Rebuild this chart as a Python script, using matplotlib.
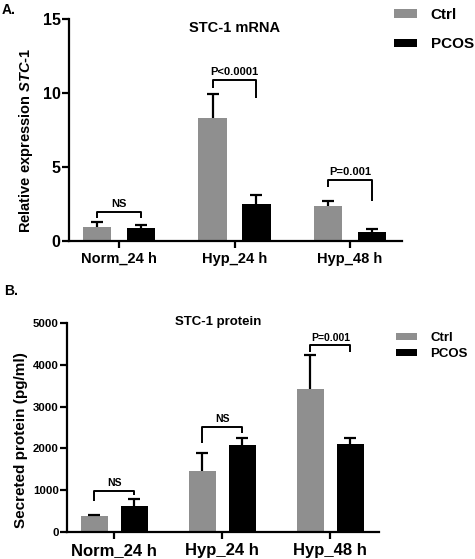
import matplotlib
matplotlib.use('Agg')
import matplotlib.pyplot as plt
import numpy as np

# =============================================================================
# STC-1 mRNA / protein — Ctrl vs PCOS, two stacked bar panels
# =============================================================================

plt.rcParams['font.family'] = ['Liberation Sans', 'DejaVu Sans']
plt.rcParams['font.weight'] = 'bold'
plt.rcParams['mathtext.fontset'] = 'custom'
plt.rcParams['mathtext.it'] = 'Liberation Sans:italic:bold'
plt.rcParams['mathtext.rm'] = 'Liberation Sans:bold'

groups = ['Norm_24 h', 'Hyp_24 h', 'Hyp_48 h']
series = ['Ctrl', 'PCOS']

# panel A: relative expression
mrna_ctrl     = [0.95, 8.3, 2.35]
mrna_ctrl_err = [0.35, 1.6, 0.35]
mrna_pcos     = [0.9, 2.5, 0.6]
mrna_pcos_err = [0.2, 0.6, 0.2]
# brackets: (group, top, left leg end, right leg end, label)
mrna_sig = [(0, 1.95, 1.55, 1.55, 'NS'),
            (1, 10.9, 10.35, 9.65, 'P<0.0001'),
            (2, 4.1, 3.65, 2.7, 'P=0.001')]

# panel B: secreted protein (pg/ml)
prot_ctrl     = [380, 1460, 3420]
prot_ctrl_err = [30, 430, 810]
prot_pcos     = [620, 2080, 2100]
prot_pcos_err = [180, 170, 150]
prot_sig = [(0, 990, 750, 885, 'NS'),
            (1, 2520, 2130, 2370, 'NS'),
            (2, 4470, 4310, 4310, 'P=0.001')]

CTRL_COLOR = '#8f8f8f'
PCOS_COLOR = '#000000'

W, H = 475, 559
fig = plt.figure(figsize=(W / 100, H / 100), dpi=100)


def style_axes(ax, ytick_size, xtick_size):
    for s in ['top', 'right']:
        ax.spines[s].set_visible(False)
    for s in ['left', 'bottom']:
        ax.spines[s].set_linewidth(1.6)
    ax.tick_params(axis='both', width=1.6, length=5, direction='out')
    ax.tick_params(axis='y', labelsize=ytick_size, pad=1)
    ax.tick_params(axis='x', labelsize=xtick_size, pad=3)
    for lab in ax.get_xticklabels() + ax.get_yticklabels():
        lab.set_fontweight('bold')


def draw_panel(ax, ctrl, ctrl_err, pcos, pcos_err, sig, off, width,
               cap, txt_size, txt_gap):
    x = np.arange(len(groups))
    ekw = dict(elinewidth=1.6, capthick=1.6, ecolor='black')
    b1 = ax.bar(x - off, ctrl, width, color=CTRL_COLOR, label=series[0],
                yerr=[np.zeros(len(ctrl)), ctrl_err], capsize=cap,
                error_kw=ekw, zorder=2)
    b2 = ax.bar(x + off, pcos, width, color=PCOS_COLOR, label=series[1],
                yerr=[np.zeros(len(pcos)), pcos_err], capsize=cap,
                error_kw=ekw, zorder=2)
    # only the upper cap is shown (one-sided error bars)
    for b in (b1, b2):
        caps = b.errorbar.lines[1]
        if len(caps) > 1:
            caps[0].set_visible(False)
    for g, top, lleg, rleg, lab in sig:
        xl, xr = g - off, g + off
        ax.plot([xl, xl, xr, xr], [lleg, top, top, rleg],
                color='black', lw=1.4, solid_capstyle='butt', zorder=3)
        ax.text(g, top + txt_gap, lab, ha='center', va='bottom',
                fontsize=txt_size, fontweight='bold')
    ax.set_xticks(x)
    ax.set_xticklabels(groups)
    return b1, b2


# ---- Panel A ----
axA = fig.add_axes([69 / W, 1 - 241 / H, (402 - 69) / W, (241 - 19) / H])
hA = draw_panel(axA, mrna_ctrl, mrna_ctrl_err, mrna_pcos, mrna_pcos_err,
                mrna_sig, off=0.19, width=0.245, cap=4.5, txt_size=8,
                txt_gap=0.2)
axA.set_xlim(-0.433, 2.45)
axA.set_ylim(0, 15)
axA.set_yticks([0, 5, 10, 15])
axA.set_ylabel('Relative expression $\\mathit{STC}$-$\\mathit{1}$',
               fontsize=10.5, fontweight='bold')
axA.yaxis.set_label_coords(-0.102, 0.455)
style_axes(axA, 11.5, 10.5)
fig.text(235 / W, 1 - 28 / H, 'STC-1 mRNA', ha='center', va='center',
         fontsize=10.5, fontweight='bold')
fig.legend(hA, series, loc='upper left',
           bbox_to_anchor=(394 / W, 1 - 8 / H), frameon=False,
           handlelength=1.5, handleheight=0.45,
           handletextpad=0.9, labelspacing=1.0, borderpad=0,
           borderaxespad=0, prop={'weight': 'bold', 'size': 11})
fig.text(2 / W, 1 - 10 / H, 'A.', ha='left', va='center',
         fontsize=10, fontweight='bold')

# ---- Panel B ----
axB = fig.add_axes([67 / W, 1 - 532 / H, (379 - 67) / W, (532 - 323) / H])
hB = draw_panel(axB, prot_ctrl, prot_ctrl_err, prot_pcos, prot_pcos_err,
                prot_sig, off=0.185, width=0.25, cap=4.5, txt_size=7.5,
                txt_gap=60)
axB.set_xlim(-0.435, 2.45)
axB.set_ylim(0, 5000)
axB.set_yticks(np.arange(0, 5001, 1000))
axB.set_ylabel('Secreted protein (pg/ml)', fontsize=11, fontweight='bold')
axB.yaxis.set_label_coords(-0.125, 0.44)
style_axes(axB, 8.2, 12)
fig.text(218 / W, 1 - 322 / H, 'STC-1 protein', ha='center', va='center',
         fontsize=9.5, fontweight='bold')
fig.legend(hB, series, loc='upper left',
           bbox_to_anchor=(396 / W, 1 - 332 / H), frameon=False,
           handlelength=1.6, handleheight=0.45, handletextpad=1.0,
           labelspacing=0.3, borderpad=0, borderaxespad=0,
           prop={'weight': 'bold', 'size': 9.5})
fig.text(4 / W, 1 - 291 / H, 'B.', ha='left', va='center',
         fontsize=10, fontweight='bold')

plt.savefig('out.png', dpi=100)
